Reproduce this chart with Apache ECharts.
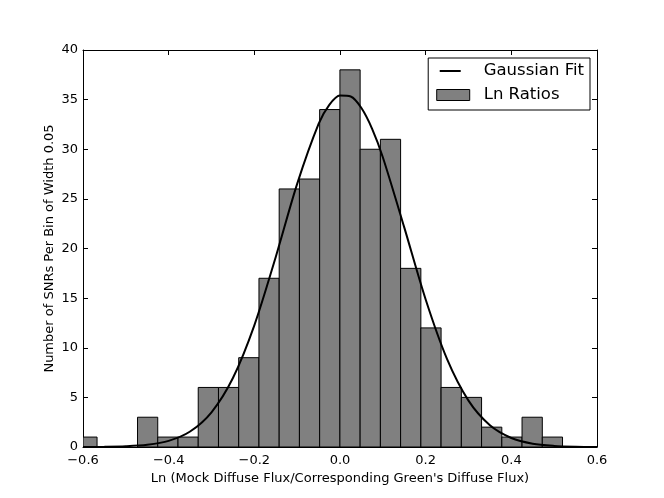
<!DOCTYPE html>
<html>
<head>
<meta charset="utf-8">
<script src="https://cdn.jsdelivr.net/npm/echarts@6/dist/echarts.min.js"></script>
<style>
  html, body { margin: 0; padding: 0; background: #fff; }
  #chart { width: 664px; height: 498px; }
</style>
</head>
<body>
<div id="chart"></div>
<script>
// histogram bins (left edges, width) and counts
var binEdges = [-0.6145, -0.5672, -0.5200, -0.4727, -0.4255, -0.3782, -0.3310, -0.2837,
                -0.2365, -0.1892, -0.1420, -0.0947, -0.0475, -0.0002, 0.0470, 0.0943,
                0.1415, 0.1888, 0.2360, 0.2833, 0.3305, 0.3778, 0.4250, 0.4723, 0.5195];
var counts = [1, 0, 0, 3, 1, 1, 6, 6, 9, 17, 26, 27, 34, 38, 30, 31, 18, 12, 6, 5, 2, 1, 3, 1];

// gaussian fit curve
var fitX = [-0.6, -0.55, -0.5, -0.45, -0.4, -0.35, -0.3, -0.25, -0.2, -0.15, -0.1, -0.05,
            -0.025, 0, 0.025, 0.05, 0.075, 0.1, 0.15, 0.2, 0.25, 0.3, 0.35, 0.4, 0.45, 0.5, 0.55, 0.6];
var fitY = [0.005, 0.02, 0.07, 0.22, 0.62, 1.56, 3.5, 6.95, 12.26, 19.15, 26.51, 32.55,
            34.47, 35.41, 35.31, 34.15, 32.06, 29.2, 22.13, 14.86, 8.85, 4.67, 2.19, 0.91, 0.33, 0.11, 0.03, 0.008];

var xTicks = { min: -0.6, max: 0.6, interval: 0.2 };
var yTicks = { min: 0, max: 40, interval: 5 };

var histData = [];
for (var i = 0; i < counts.length; i++) {
    histData.push([binEdges[i], binEdges[i + 1], counts[i]]);
}
var fitData = fitX.map(function (x, i) { return [x, fitY[i]]; });

var font = 'DejaVu Sans';
function fmt(v) {
    var s = v.toFixed(1);
    return s.charAt(0) === '-' ? '\u2212' + s.slice(1) : s;
}

var myChart = echarts.init(document.getElementById('chart'));
var option = {
    backgroundColor: '#fff',
    animation: false,
    grid: { left: 83, right: 67, top: 50, bottom: 51, show: false },
    legend: {
        orient: 'vertical',
        right: 74,
        top: 58,
        padding: [3, 6, 5, 8],
        itemGap: 4,
        itemWidth: 33,
        itemHeight: 11,
        borderColor: '#000',
        borderWidth: 1,
        borderRadius: 0,
        backgroundColor: '#fff',
        textStyle: { fontFamily: font, fontSize: 16.5, color: '#000', padding: [0, 0, 0, 9], lineHeight: 20 },
        data: [
            { name: 'Gaussian Fit', icon: 'path://M0,0L0,0M33,11L33,11M3,4.5H24V6.5H3Z' },
            { name: 'Ln Ratios', icon: 'rect', itemStyle: { color: '#808080', borderColor: '#000', borderWidth: 1 } }
        ]
    },
    xAxis: [{
        type: 'value',
        min: xTicks.min, max: xTicks.max, interval: xTicks.interval,
        name: "Ln (Mock Diffuse Flux/Corresponding Green's Diffuse Flux)",
        nameLocation: 'middle',
        nameGap: 25,
        nameMoveOverlap: false,
        nameTextStyle: { fontFamily: font, fontSize: 13, color: '#000' },
        axisLine: { onZero: false, lineStyle: { color: '#000', width: 1 } },
        axisTick: { inside: true, length: 5, lineStyle: { color: '#000' } },
        axisLabel: { fontFamily: font, fontSize: 13, color: '#000', margin: 7, formatter: fmt },
        splitLine: { show: false }
    }, {
        type: 'value', position: 'top',
        min: xTicks.min, max: xTicks.max, interval: xTicks.interval,
        axisLine: { onZero: false, lineStyle: { color: '#000', width: 1 } },
        axisTick: { inside: true, length: 5, lineStyle: { color: '#000' } },
        axisLabel: { show: false },
        splitLine: { show: false }
    }],
    yAxis: [{
        type: 'value',
        min: yTicks.min, max: yTicks.max, interval: yTicks.interval,
        name: 'Number of SNRs Per Bin of Width 0.05',
        nameLocation: 'middle',
        nameGap: 27,
        nameMoveOverlap: false,
        nameTextStyle: { fontFamily: font, fontSize: 13, color: '#000' },
        axisLine: { show: true, onZero: false, lineStyle: { color: '#000', width: 1 } },
        axisTick: { show: true, inside: true, length: 5, lineStyle: { color: '#000' } },
        axisLabel: { fontFamily: font, fontSize: 13, color: '#000', margin: 5 },
        splitLine: { show: false }
    }, {
        type: 'value', position: 'right',
        min: yTicks.min, max: yTicks.max, interval: yTicks.interval,
        axisLine: { show: true, onZero: false, lineStyle: { color: '#000', width: 1 } },
        axisTick: { show: true, inside: true, length: 5, lineStyle: { color: '#000' } },
        axisLabel: { show: false },
        splitLine: { show: false }
    }],
    series: [{
        name: 'Ln Ratios',
        type: 'custom',
        clip: true,
        itemStyle: { color: '#808080', borderColor: '#000', borderWidth: 1 },
        encode: { x: [0, 1], y: 2 },
        data: histData,
        renderItem: function (params, api) {
            var p0 = api.coord([api.value(0), api.value(2)]);
            var p1 = api.coord([api.value(1), 0]);
            var rect = {
                x: p0[0], y: p0[1],
                width: p1[0] - p0[0], height: p1[1] - p0[1]
            };
            var clipped = echarts.graphic.clipRectByRect(rect, {
                x: params.coordSys.x, y: params.coordSys.y,
                width: params.coordSys.width, height: params.coordSys.height
            });
            if (!clipped || rect.height <= 0) return null;
            return {
                type: 'rect',
                shape: clipped,
                style: { fill: '#808080', stroke: '#000', lineWidth: 1 }
            };
        },
        z: 2
    }, {
        name: 'Gaussian Fit',
        type: 'line',
        data: fitData,
        smooth: 0.3,
        symbol: 'none',
        lineStyle: { color: '#000', width: 2 },
        itemStyle: { color: '#000' },
        z: 3
    }]
};
myChart.setOption(option);
</script>
</body>
</html>
